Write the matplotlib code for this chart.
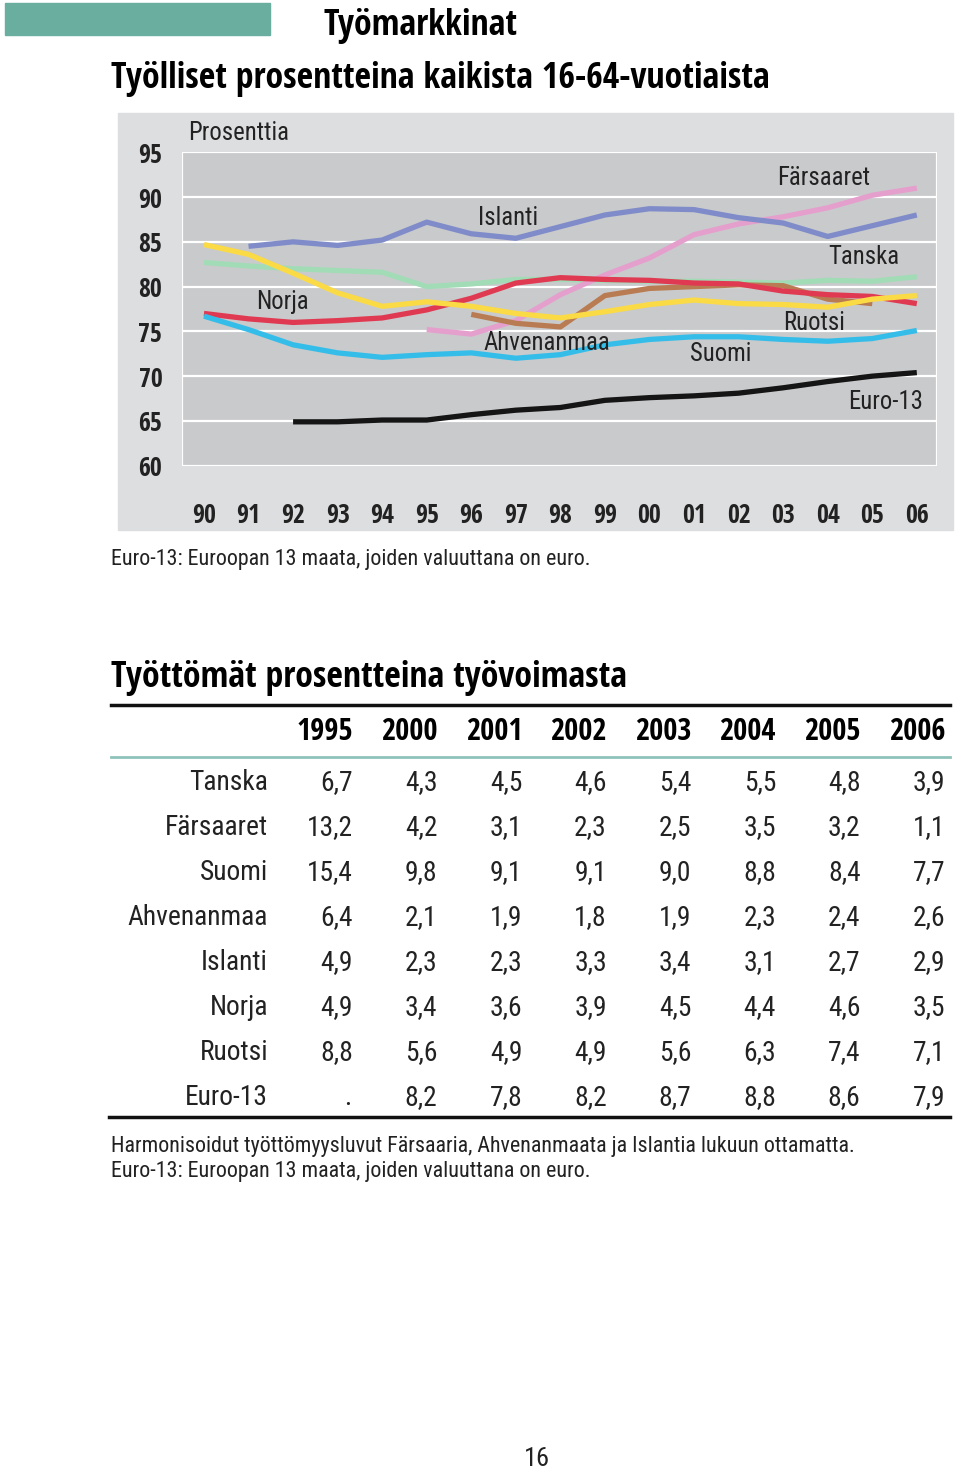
import matplotlib
matplotlib.use("Agg")
import matplotlib.pyplot as plt
from matplotlib.patches import Rectangle

REGULAR = ['Roboto Condensed', 'PT Sans Narrow', 'DejaVu Sans']
BOLD = ['Open Sans Condensed', 'Roboto Condensed', 'DejaVu Sans']
plt.rcParams['font.family'] = REGULAR

# employment rate, % of 16-64 year olds
years = list(range(1990, 2007))
islanti = [None, 84.5, 85.0, 84.6, 85.2, 87.2, 85.9, 85.4, 86.7, 88.0, 88.7, 88.6, 87.7, 87.1, 85.6, 86.8, 88.0]
farsaaret = [None, None, None, None, None, 75.2, 74.7, 76.2, 79.1, 81.3, 83.2, 85.8, 87.0, 87.8, 88.8, 90.2, 91.0]
tanska = [82.7, 82.3, 82.0, 81.8, 81.6, 80.0, 80.3, 80.8, 80.8, 80.7, 80.6, 80.6, 80.5, 80.4, 80.7, 80.6, 81.1]
norja = [77.0, 76.4, 76.0, 76.2, 76.5, 77.4, 78.7, 80.4, 81.0, 80.8, 80.7, 80.4, 80.3, 79.5, 79.1, 78.9, 78.1]
ruotsi = [84.7, 83.6, 81.5, 79.3, 77.8, 78.3, 77.8, 77.0, 76.5, 77.2, 78.0, 78.5, 78.1, 78.0, 77.7, 78.6, 79.0]
ahvenanmaa = [None, None, None, None, None, None, 76.9, 75.9, 75.5, 79.0, 79.8, 80.0, 80.2, 80.1, 78.6, 78.1, None]
suomi = [76.7, 75.2, 73.5, 72.6, 72.1, 72.4, 72.6, 72.0, 72.4, 73.5, 74.1, 74.4, 74.4, 74.1, 73.9, 74.2, 75.1]
euro13 = [None, None, 64.9, 64.9, 65.1, 65.1, 65.7, 66.2, 66.5, 67.3, 67.6, 67.8, 68.1, 68.7, 69.4, 70.0, 70.4]

# unemployment table
tab_years = ["1995", "2000", "2001", "2002", "2003", "2004", "2005", "2006"]
tab_rows = ["Tanska", "Färsaaret", "Suomi", "Ahvenanmaa", "Islanti", "Norja", "Ruotsi", "Euro-13"]
tab_values = [
    [6.7, 4.3, 4.5, 4.6, 5.4, 5.5, 4.8, 3.9],
    [13.2, 4.2, 3.1, 2.3, 2.5, 3.5, 3.2, 1.1],
    [15.4, 9.8, 9.1, 9.1, 9.0, 8.8, 8.4, 7.7],
    [6.4, 2.1, 1.9, 1.8, 1.9, 2.3, 2.4, 2.6],
    [4.9, 2.3, 2.3, 3.3, 3.4, 3.1, 2.7, 2.9],
    [4.9, 3.4, 3.6, 3.9, 4.5, 4.4, 4.6, 3.5],
    [8.8, 5.6, 4.9, 4.9, 5.6, 6.3, 7.4, 7.1],
    [None, 8.2, 7.8, 8.2, 8.7, 8.8, 8.6, 7.9],
]

title = "Työlliset prosentteina kaikista 16-64-vuotiaista"
note1 = "Harmonisoidut työttömyysluvut Färsaaria, Ahvenanmaata ja Islantia lukuun ottamatta."
note2 = "Euro-13: Euroopan 13 maata, joiden valuuttana on euro."

W, H = 960, 1472
fig = plt.figure(figsize=(W / 100, H / 100), dpi=100)
renderer = fig.canvas.get_renderer()


def fit(s, width, family=REGULAR, weight="normal"):
    # font size that makes s about `width` pixels wide
    t = fig.text(0, 0, s, fontsize=10, family=family, fontweight=weight)
    w = t.get_window_extent(renderer).width
    t.remove()
    return 10 * width / w


fs_title = fit(title, 662, BOLD, "bold")
fs_head = fit("2000", 56, BOLD, "bold")
fs_tick = fit("90", 24, BOLD, "bold")
fs_cell = fit("Ahvenanmaa", 140)
fs_note = fit(note1, 740)
fs_lab = fit("Ahvenanmaa", 126)

# page layer in pixel coordinates
pg = fig.add_axes([0, 0, 1, 1], zorder=0)
pg.set_xlim(0, W)
pg.set_ylim(H, 0)
pg.axis("off")

pg.add_patch(Rectangle((5, 3), 265, 32, color="#6aaea0"))
pg.text(323, 35, "Työmarkkinat", fontsize=fs_title, family=BOLD, fontweight="bold",
        va="baseline", ha="left")
pg.text(111, 88, title, fontsize=fs_title, family=BOLD, fontweight="bold", va="baseline", ha="left")

# grey panel behind the chart
pg.add_patch(Rectangle((118, 113), 835, 417, color="#dddee0"))
pg.text(188, 140, "Prosenttia", fontsize=fs_lab, va="baseline", ha="left", color="#222222")
pg.text(111, 565, note2, fontsize=fs_note, va="baseline", ha="left", color="#222222")

# chart
x0, x1, y0, y1 = 181.7, 937.3, 152.3, 465.7
ax = fig.add_axes([x0 / W, 1 - y1 / H, (x1 - x0) / W, (y1 - y0) / H], zorder=1)
ax.set_facecolor("#c9cacc")
ax.set_xlim(1989.5, 2006.46)
ax.set_ylim(60, 95)
for s in ax.spines.values():
    s.set_visible(False)
for v in range(60, 96, 5):
    ax.axhline(v, color="white", lw=1.6, zorder=1)
ax.axvline(1989.5, color="white", lw=1.6, zorder=1)
ax.axvline(2006.46, color="white", lw=1.6, zorder=1)

series = [
    (tanska, "#a2dcb6"),
    (farsaaret, "#e59fcd"),
    (ahvenanmaa, "#b97c52"),
    (norja, "#e03a52"),
    (ruotsi, "#fbdb45"),
    (islanti, "#7f8cc9"),
    (suomi, "#35bde9"),
    (euro13, "#151515"),
]
for vals, col in series:
    xs = [y for y, v in zip(years, vals) if v is not None]
    ys = [v for v in vals if v is not None]
    ax.plot(xs, ys, color=col, lw=3.8, solid_capstyle="butt", zorder=2)

labels = [
    ("Islanti", 1996.83, 86.9), ("Norja", 1991.75, 77.5), ("Ahvenanmaa", 1997.7, 72.9),
    ("Suomi", 2001.6, 71.7), ("Färsaaret", 2003.9, 91.4), ("Tanska", 2004.8, 82.5),
    ("Ruotsi", 2003.7, 75.1), ("Euro-13", 2005.3, 66.3),
]
for txt, lx, ly in labels:
    ax.text(lx, ly, txt, fontsize=fs_lab, ha="center", va="baseline", color="#222222", zorder=3)

ax.set_yticks(range(60, 96, 5))
ax.set_xticks(years)
ax.set_xticklabels([str(y)[2:] for y in years])
ax.tick_params(length=0, labelsize=fs_tick, colors="#222222")
ax.tick_params(axis="y", pad=14)
ax.tick_params(axis="x", pad=26)
for lab in ax.get_xticklabels() + ax.get_yticklabels():
    lab.set_family(BOLD)
    lab.set_fontweight("bold")

# unemployment table
pg.text(111, 687, "Työttömät prosentteina työvoimasta", fontsize=fs_title, family=BOLD,
        fontweight="bold", va="baseline", ha="left")
pg.plot([111, 950], [705, 705], color="#111111", lw=2.5)
pg.plot([111, 950], [757, 757], color="#8fc2ba", lw=2)
pg.plot([109, 950], [1117, 1117], color="#111111", lw=2.5)

col_x = [353 + 84.6 * i for i in range(len(tab_years))]
for cx, yr in zip(col_x, tab_years):
    pg.text(cx, 740, yr, fontsize=fs_head, family=BOLD, fontweight="bold", ha="right", va="baseline")
for r, (name, vals) in enumerate(zip(tab_rows, tab_values)):
    ry = 790 + 45 * r
    pg.text(268, ry, name, fontsize=fs_cell, ha="right", va="baseline", color="#222222")
    for cx, v in zip(col_x, vals):
        s = "." if v is None else f"{v:.1f}".replace(".", ",")
        pg.text(cx - (2 if v is None else 0), ry, s, fontsize=fs_cell, ha="right", va="baseline",
                color="#222222")

pg.text(111, 1152, note1, fontsize=fs_note, ha="left", va="baseline", color="#222222")
pg.text(111, 1177, note2, fontsize=fs_note, ha="left", va="baseline", color="#222222")
pg.text(537, 1466, "16", fontsize=fs_note * 1.2, ha="center", va="baseline", color="#222222")

fig.savefig("out.png", dpi=100)
